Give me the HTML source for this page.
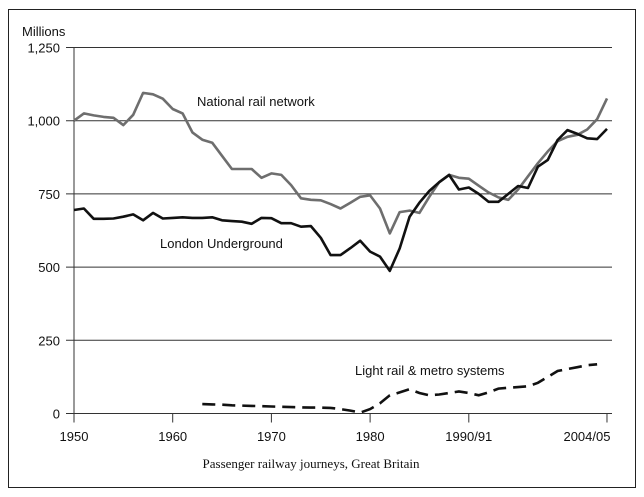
<!DOCTYPE html>
<html><head><meta charset="utf-8"><style>
html,body{margin:0;padding:0;background:#fff;}
svg{display:block;}
text{font-family:"Liberation Sans","DejaVu Sans",sans-serif;font-size:13px;fill:#111;}
.cap{font-family:"Liberation Serif",serif;font-size:13px;}
</style></head><body>
<svg id="chart" width="644" height="497" viewBox="0 0 644 497">
<rect x="8.5" y="9.5" width="627" height="478" fill="none" stroke="#222" stroke-width="1"/>
<g id="grid"></g><g id="axes"></g><g id="series"></g>
<text x="22" y="36">Millions</text>
<text x="197" y="106">National rail network</text>
<text x="160" y="248">London Underground</text>
<text x="355" y="375">Light rail &amp; metro systems</text>
<text class="cap" x="311" y="468" text-anchor="middle">Passenger railway journeys, Great Britain</text>
</svg>
<script>
const yTicks=[0,250,500,750,1000,1250];
const yTickLabels=["0","250","500","750","1,000","1,250"];
const xTicks=[1950,1960,1970,1980,1990,2004];
const xTickLabels=["1950","1960","1970","1980","1990/91","2004/05"];
const nrYears=[1950,1951,1952,1953,1954,1955,1956,1957,1958,1959,1960,1961,1962,1963,1964,1965,1966,1967,1968,1969,1970,1971,1972,1973,1974,1975,1976,1977,1978,1979,1980,1981,1982,1983,1984,1985,1986,1987,1988,1989,1990,1991,1992,1993,1994,1995,1996,1997,1998,1999,2000,2001,2002,2003,2004];
const nationalRail=[1000,1025,1018,1013,1010,985,1020,1095,1090,1075,1040,1025,960,935,925,880,835,835,835,805,820,815,780,735,730,728,715,700,720,740,745,700,615,688,693,685,740,790,815,805,802,778,755,738,730,765,810,855,895,930,945,952,970,1005,1076];
const londonUnderground=[695,700,665,665,666,672,680,660,685,666,668,670,668,668,670,660,657,655,648,668,667,650,650,638,640,600,541,541,565,590,553,536,487,564,672,720,760,790,815,765,772,750,723,723,750,777,770,843,866,934,968,955,940,937,972];
const lrYears=[1963,1964,1965,1966,1967,1968,1969,1970,1971,1972,1973,1974,1975,1976,1977,1978,1979,1980,1981,1982,1983,1984,1985,1986,1987,1988,1989,1990,1991,1992,1993,1994,1995,1996,1997,1998,1999,2000,2001,2002,2003];
const lightRail=[32,31,30,28,27,26,25,24,23,22,21,20,20,19,15,10,3,15,35,62,72,83,70,62,65,70,75,70,62,72,85,88,90,93,105,125,145,152,158,165,168];
const NS="http://www.w3.org/2000/svg";
const X=v=>74+(v-1950)*9.87;
const Y=v=>413.5-v*0.2928;
function mk(tag,attrs,parent){const e=document.createElementNS(NS,tag);for(const k in attrs)e.setAttribute(k,attrs[k]);document.getElementById(parent).appendChild(e);return e;}
yTicks.forEach((t,i)=>{
  const g=mk('line',{x1:66,x2:612,y1:Y(t),y2:Y(t),stroke:'#333','stroke-width':1},'grid');
  
  
  const tx=mk('text',{x:60,y:Y(t)+5,'text-anchor':'end'},'axes');
  tx.textContent=yTickLabels[i];
  
  
});
const ax=mk('line',{x1:74,x2:74,y1:Y(1250),y2:Y(0)+9,stroke:'#333','stroke-width':1},'axes');


xTicks.forEach((t,i)=>{
  const l=mk('line',{x1:X(t),x2:X(t),y1:Y(0),y2:Y(0)+9,stroke:'#333','stroke-width':1},'axes');
  
  
  const tx=mk('text',{x:X(t)-(i==5?20:0),y:441,'text-anchor':'middle'},'axes');
  tx.textContent=xTickLabels[i];
  
  
});
function pts(xs,vs){return xs.map((x,i)=>X(x).toFixed(1)+','+Y(vs[i]).toFixed(1)).join(' ');}
const nr=mk('polyline',{points:pts(nrYears,nationalRail),fill:'none',stroke:'#6e6e6e','stroke-width':2.6,'stroke-linejoin':'round'},'series');


const lu=mk('polyline',{points:pts(nrYears,londonUnderground),fill:'none',stroke:'#111','stroke-width':2.6,'stroke-linejoin':'round'},'series');


const lr=mk('polyline',{points:pts(lrYears,lightRail),fill:'none',stroke:'#111','stroke-width':2.6,'stroke-dasharray':'13,7'},'series');


</script>
</body></html>
